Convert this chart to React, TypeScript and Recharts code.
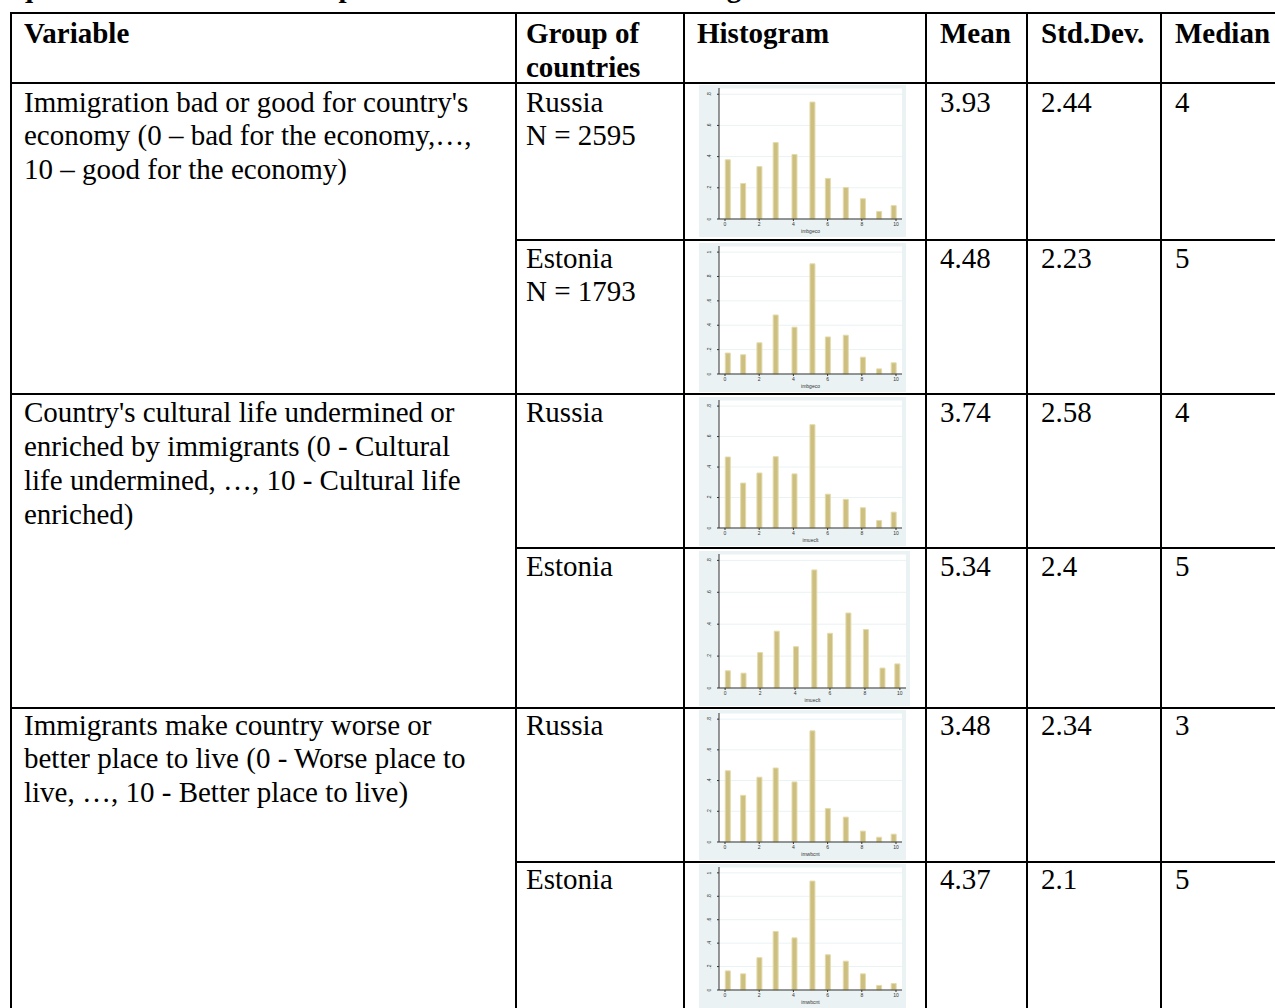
import { BarChart, Bar, XAxis, YAxis, CartesianGrid } from "recharts";

// scores 0..10 and the (approximate) bin midpoints Stata drew them at
const SCORES = [0, 1, 2, 3, 4, 5, 6, 7, 8, 9, 10];
const BIN_MIDS = [0.15, 1.05, 2.0, 2.95, 4.05, 5.1, 6.0, 7.05, 8.05, 9.0, 9.85];

// densities
const RU_IMBGECO = [0.38, 0.228, 0.336, 0.49, 0.414, 0.75, 0.26, 0.202, 0.13, 0.048, 0.086];
const EE_IMBGECO = [0.172, 0.158, 0.256, 0.484, 0.384, 0.904, 0.304, 0.318, 0.138, 0.042, 0.092];
const RU_IMUECLT = [0.466, 0.295, 0.361, 0.468, 0.355, 0.678, 0.222, 0.188, 0.133, 0.049, 0.104];
const EE_IMUECLT = [0.108, 0.093, 0.222, 0.356, 0.259, 0.74, 0.343, 0.47, 0.367, 0.125, 0.151];
const RU_IMWBCNT = [0.464, 0.304, 0.422, 0.482, 0.391, 0.724, 0.218, 0.162, 0.071, 0.031, 0.051];
const EE_IMWBCNT = [0.163, 0.138, 0.276, 0.5, 0.445, 0.93, 0.301, 0.246, 0.138, 0.039, 0.055];

const Y_TICKS_08 = [0, 0.2, 0.4, 0.6, 0.8];
const Y_TICKS_1 = [0, 0.2, 0.4, 0.6, 0.8, 1];
const X_TICKS = [0, 2, 4, 6, 8, 10];

const GROUPS = ["Russia", "Estonia", "Russia", "Estonia", "Russia", "Estonia"];
const GROUP_N = ["N = 2595", "N = 1793", "", "", "", ""];
const MEANS = ["3.93", "4.48", "3.74", "5.34", "3.48", "4.37"];
const SDS = ["2.44", "2.23", "2.58", "2.4", "2.34", "2.1"];
const MEDIANS = ["4", "5", "4", "5", "3", "5"];
const VAR_NAMES = ["imbgeco", "imbgeco", "imueclt", "imueclt", "imwbcnt", "imwbcnt"];
const SERIES = [RU_IMBGECO, EE_IMBGECO, RU_IMUECLT, EE_IMUECLT, RU_IMWBCNT, EE_IMWBCNT];
const Y_TICKS = [Y_TICKS_08, Y_TICKS_1, Y_TICKS_08, Y_TICKS_08, Y_TICKS_08, Y_TICKS_1];

const VARIABLE_TEXT = [
  ["Immigration bad or good for country's", "economy (0 \u2013 bad for the economy,\u2026,", "10 \u2013 good for the economy)"],
  ["Country's cultural life undermined or", "enriched by immigrants (0 - Cultural", "life undermined, \u2026, 10 - Cultural life", "enriched)"],
  ["Immigrants make country worse or", "better place to live (0 - Worse place to", "live, \u2026, 10 - Better place to live)"],
];

const SERIF = "'Liberation Serif', 'Times New Roman', serif";
const SANS = "'Liberation Sans', Arial, sans-serif";
const PANEL = "#eaf2f3";
const BAR = "#cdbf80";

const PANELS = [
  { top: 85, w: 207, h: 152 },
  { top: 243, w: 207, h: 149 },
  { top: 397, w: 207, h: 149 },
  { top: 551, w: 211, h: 155 },
  { top: 710, w: 207, h: 150 },
  { top: 864, w: 207, h: 144 },
];

const fmt = (v: number) => (v === 0 ? "0" : v === 1 ? "1" : String(v).replace("0.", "."));

const YTick = ({ x, y, payload }: any) => (
  <text x={x} y={y} transform={`rotate(-90 ${x} ${y})`} textAnchor="middle" fontSize={5} fill="#333" fontFamily={SANS}>
    {fmt(payload.value)}
  </text>
);

function Histogram({ values, ticks, name, w, h }: { values: number[]; ticks: number[]; name: string; w: number; h: number }) {
  const data = SCORES.map((s, i) => ({ score: s, x: BIN_MIDS[i], d: values[i] }));
  const top = ticks[ticks.length - 1];
  return (
    <div style={{ width: w, height: h, background: PANEL }}>
      <BarChart width={w} height={h} data={data} margin={{ top: 3, right: 4, left: 2, bottom: 2 }}>
        <CartesianGrid vertical={false} stroke={PANEL} fill="#ffffff" fillOpacity={1} />
        <XAxis
          type="number"
          dataKey="x"
          domain={[-0.35, 10.35]}
          ticks={X_TICKS}
          height={16}
          tickSize={2}
          tickMargin={1}
          tick={{ fontSize: 5, fill: "#333", fontFamily: SANS }}
          axisLine={{ stroke: "#333" }}
          tickLine={{ stroke: "#333" }}
          label={{ value: name, position: "insideBottom", offset: 2, fontSize: 5, fill: "#333", fontFamily: SANS }}
        />
        <YAxis
          type="number"
          domain={[0, top * 1.05]}
          ticks={ticks}
          width={18}
          tickSize={2}
          tickMargin={6}
          tick={<YTick />}
          axisLine={{ stroke: "#333" }}
          tickLine={{ stroke: "#333" }}
        />
        <Bar dataKey="d" barSize={5} fill={BAR} stroke="#e4dbab" strokeWidth={1} isAnimationActive={false} />
      </BarChart>
    </div>
  );
}

const Line = ({ x, y, w, h }: { x: number; y: number; w: number; h: number }) => (
  <div style={{ position: "absolute", left: x, top: y, width: w, height: h, background: "#000" }} />
);

const Txt = ({ x, cy, children, bold }: { x: number; cy: number; children: any; bold?: boolean }) => (
  <div
    style={{
      position: "absolute",
      left: x,
      top: cy - 17,
      height: 34,
      lineHeight: "34px",
      fontSize: 29,
      fontWeight: bold ? 700 : 400,
      whiteSpace: "nowrap",
      color: "#000",
    }}
  >
    {children}
  </div>
);

export default function App() {
  const colX = [11, 516, 684, 926, 1027, 1161];
  const rowCenters = [102, 258, 412, 566, 725, 879];
  const varCenters = [
    [102, 135, 169],
    [412, 446, 480, 514],
    [725, 758, 792],
  ];
  return (
    <div style={{ position: "absolute", left: 0, top: 0, width: 1275, height: 1008, overflow: "hidden", background: "#fff", fontFamily: SERIF }}>
      <Txt x={17} cy={-13} bold>
        questions about several aspects of attitudes towards immigrants
      </Txt>

      {/* table rules */}
      <Line x={10} y={12} w={1275} h={2} />
      <Line x={10} y={82} w={1275} h={2} />
      {[394, 708].map((y) => (
        <Line key={y} x={10} y={y - 1} w={1275} h={2} />
      ))}
      {[240, 548, 862].map((y) => (
        <Line key={y} x={516} y={y - 1} w={760} h={2} />
      ))}
      {colX.map((x) => (
        <Line key={x} x={x - 1} y={12} w={2} h={1000} />
      ))}

      {/* header */}
      <Txt x={24} cy={33} bold>Variable</Txt>
      <Txt x={526} cy={33} bold>Group of</Txt>
      <Txt x={526} cy={67} bold>countries</Txt>
      <Txt x={697} cy={33} bold>Histogram</Txt>
      <Txt x={940} cy={33} bold>Mean</Txt>
      <Txt x={1041} cy={33} bold>Std.Dev.</Txt>
      <Txt x={1175} cy={33} bold>Median</Txt>

      {VARIABLE_TEXT.map((lines, i) =>
        lines.map((t, j) => (
          <Txt key={`${i}-${j}`} x={24} cy={varCenters[i][j]}>{t}</Txt>
        ))
      )}

      {GROUPS.map((g, i) => (
        <div key={i}>
          <Txt x={526} cy={rowCenters[i]}>{g}</Txt>
          {GROUP_N[i] && <Txt x={526} cy={rowCenters[i] + 33}>{GROUP_N[i]}</Txt>}
          <Txt x={940} cy={rowCenters[i]}>{MEANS[i]}</Txt>
          <Txt x={1041} cy={rowCenters[i]}>{SDS[i]}</Txt>
          <Txt x={1175} cy={rowCenters[i]}>{MEDIANS[i]}</Txt>
          <div style={{ position: "absolute", left: 699, top: PANELS[i].top }}>
            <Histogram values={SERIES[i]} ticks={Y_TICKS[i]} name={VAR_NAMES[i]} w={PANELS[i].w} h={PANELS[i].h} />
          </div>
        </div>
      ))}
    </div>
  );
}
